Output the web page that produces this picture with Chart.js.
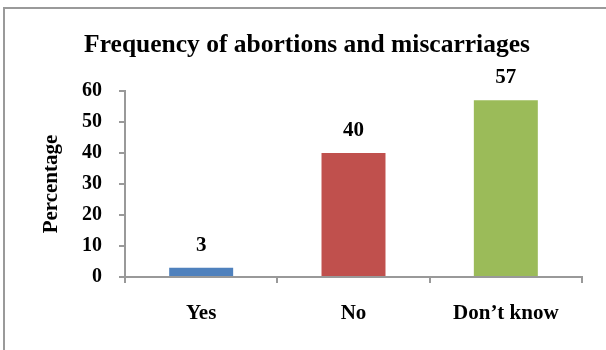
<!DOCTYPE html>
<html lang="en">
  <head>
    <meta charset="UTF-8" />
    <script src="https://cdn.jsdelivr.net/npm/chart.js"></script>
    <title>Frequency of abortions and miscarriages</title>
    <style>
      body { margin: 0; background: #fff; }
      #wrap {
        position: absolute;
        left: 3px;
        top: 7px;
        width: 601px;
        height: 341px;
        border-top: 2px solid #9a9a9a;
        border-left: 2px solid #9a9a9a;
      }
    </style>
  </head>
  <body>
    <div id="wrap">
      <canvas id="chart" width="601" height="341"></canvas>
    </div>
  </body>
</html>
<script>
  const categories = ["Yes", "No", "Don\u2019t know"];
  const values = [3, 40, 57];
  const yTicks = [0, 10, 20, 30, 40, 50, 60];
  const chartTitle = "Frequency of abortions and miscarriages";
  const colors = ["#4f81bd", "#c0504d", "#9bbb59"];

  const serif = '"Liberation Serif", "Times New Roman", serif';
  const axisGray = "#999";

  // title + value labels drawn by hand
  const labelsPlugin = {
    id: "labels",
    afterDatasetsDraw(chart) {
      const ctx = chart.ctx;
      ctx.save();
      ctx.fillStyle = "#000";
      ctx.textAlign = "center";
      ctx.textBaseline = "alphabetic";
      ctx.font = "bold 25.5px " + serif;
      ctx.fillText(chartTitle, 302, 43);

      ctx.font = "bold 21px " + serif;
      chart.getDatasetMeta(0).data.forEach((bar, i) => {
        ctx.fillText(values[i], bar.x, bar.y - 17);
      });
      ctx.restore();
    },
  };

  new Chart(document.getElementById("chart"), {
    type: "bar",
    data: {
      labels: categories,
      datasets: [
        {
          data: values,
          backgroundColor: colors,
          barPercentage: 0.42,
          categoryPercentage: 1,
        },
      ],
    },
    options: {
      responsive: false,
      animation: false,
      layout: { padding: { top: 82, right: 24, left: 0, bottom: 0 } },
      plugins: {
        legend: { display: false },
        tooltip: { enabled: false },
      },
      scales: {
        x: {
          afterFit: (s) => { s.height = 73; },
          border: { color: axisGray, width: 2 },
          grid: {
            offset: true,
            drawOnChartArea: false,
            drawTicks: true,
            tickLength: 6,
            color: axisGray,
            lineWidth: 2,
          },
          ticks: {
            color: "#000",
            padding: 18,
            font: { family: serif, size: 21, weight: "bold" },
          },
        },
        y: {
          min: 0,
          max: 60,
          afterFit: (s) => { s.width = 120; },
          afterBuildTicks: (s) => { s.ticks = yTicks.map((v) => ({ value: v })); },
          border: { color: axisGray, width: 2 },
          grid: {
            drawOnChartArea: false,
            drawTicks: true,
            tickLength: 6,
            color: axisGray,
            lineWidth: 2,
          },
          ticks: {
            color: "#000",
            padding: 17,
            font: { family: serif, size: 20, weight: "bold" },
          },
          title: {
            display: true,
            text: "Percentage",
            color: "#000",
            padding: { top: 34, bottom: 0 },
            font: { family: serif, size: 21, weight: "bold" },
          },
        },
      },
    },
    plugins: [labelsPlugin],
  });
</script>
